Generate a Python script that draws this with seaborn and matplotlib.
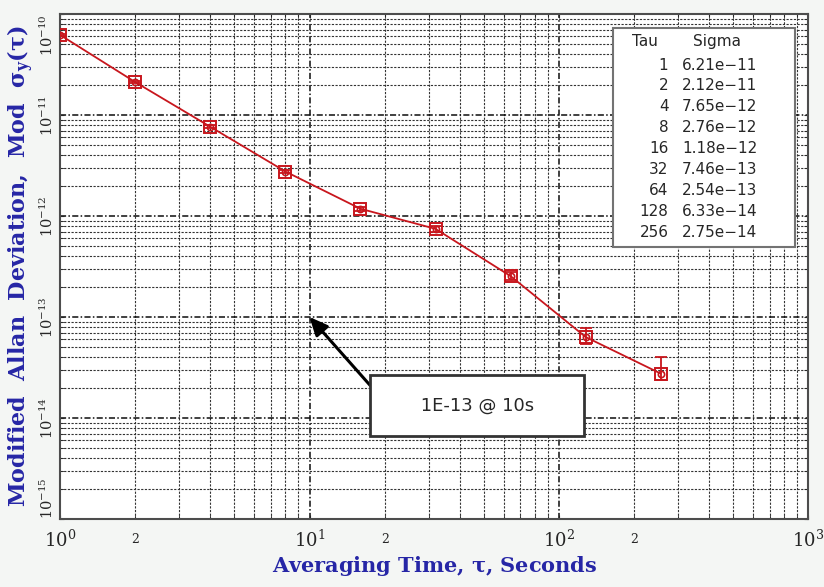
import numpy as np
import pandas as pd
import seaborn as sns
import matplotlib.pyplot as plt
from matplotlib.ticker import LogLocator, FixedLocator, FixedFormatter, LogFormatterSciNotation, NullFormatter

# data
tau = [1, 2, 4, 8, 16, 32, 64, 128, 256]
sigma = [6.21e-11, 2.12e-11, 7.65e-12, 2.76e-12, 1.18e-12, 7.46e-13, 2.54e-13, 6.33e-14, 2.75e-14]
sigma_txt = ['6.21e\u221211', '2.12e\u221211', '7.65e\u221212', '2.76e\u221212', '1.18e\u221212',
             '7.46e\u221213', '2.54e\u221213', '6.33e\u221214', '2.75e\u221214']
err_lo = [1.5e-12, 0.6e-12, 0.25e-12, 0.1e-12, 0.05e-12, 0.45e-13, 0.2e-13, 0.9e-14, 0.35e-14]
err_hi = [1.5e-12, 0.6e-12, 0.25e-12, 0.1e-12, 0.05e-12, 0.5e-13, 0.25e-13, 1.4e-14, 1.25e-14]
y_ticks = [1e-15, 1e-14, 1e-13, 1e-12, 1e-11, 1e-10]

df = pd.DataFrame({'tau': tau, 'sigma': sigma})

sns.set_style('ticks')
plt.rcParams['font.family'] = ['DejaVu Serif']
plt.rcParams['mathtext.fontset'] = 'dejavuserif'
plt.rcParams['mathtext.default'] = 'bf'

red = '#c8161d'
blue = '#2626a6'

fig = plt.figure(figsize=(8.24, 5.87), dpi=100, facecolor='#f4f6f4')
ax = fig.add_axes([0.073, 0.116, 0.908, 0.86])
ax.set_facecolor('white')

sns.lineplot(data=df, x='tau', y='sigma', ax=ax, color=red, lw=1.3, marker='s', zorder=4,
             markersize=8, markerfacecolor='none', markeredgecolor=red, markeredgewidth=1.4)
ax.plot(df['tau'], df['sigma'], ls='none', marker='o', ms=4.5, mfc='none', mec=red, mew=1.2, zorder=4)
ax.errorbar(df['tau'], df['sigma'], yerr=[err_lo, err_hi], fmt='none', ecolor=red,
            elinewidth=1.3, capsize=4, capthick=1.3, zorder=4)

ax.set_xscale('log')
ax.set_yscale('log')
ax.set_xlim(1, 1000)
ax.set_ylim(1e-15, 1e-10)

ax.yaxis.set_major_locator(FixedLocator(y_ticks))
ax.yaxis.set_minor_locator(LogLocator(base=10, subs=np.arange(2, 10)))
ax.yaxis.set_major_formatter(LogFormatterSciNotation())
ax.yaxis.set_minor_formatter(NullFormatter())
ax.xaxis.set_major_locator(LogLocator(base=10))
ax.xaxis.set_minor_locator(LogLocator(base=10, subs=np.arange(2, 10)))
ax.xaxis.set_minor_formatter(FixedFormatter(['2' if round(v / 10 ** np.floor(np.log10(v))) == 2 else ''
                                             for v in ax.xaxis.get_minor_locator().tick_values(1, 1000)]))

ax.grid(True, which='major', color='0.05', ls=(0, (4, 1.5, 1, 1.5)), lw=1.1)
ax.grid(True, which='minor', color='0.2', ls=(0, (2, 1.3)), lw=0.8)
ax.tick_params(which='both', direction='in', top=True, right=True, length=3)
ax.tick_params(axis='x', which='major', labelsize=13, pad=8)
ax.tick_params(axis='x', which='minor', labelsize=9, pad=10)
ax.tick_params(axis='y', which='major', labelsize=10.5, pad=3)
fig.canvas.draw()
for lab, v in zip(ax.get_yticklabels(), y_ticks):
    lab.set_rotation(90)
    lab.set_va('bottom' if v == y_ticks[0] else 'top' if v == y_ticks[-1] else 'center')
for sp in ax.spines.values():
    sp.set_color('0.3')
    sp.set_linewidth(1.5)

ax.set_xlabel(r'Averaging Time, $\tau$, Seconds', color=blue, fontsize=15, fontweight='bold', labelpad=2)
ax.set_ylabel(r'Modified  Allan  Deviation,  Mod  $\sigma_y(\tau)$', color=blue, fontsize=16,
              fontweight='bold', labelpad=2)

# inset table
box = plt.Rectangle((0.739, 0.539), 0.243, 0.433, transform=ax.transAxes, fc='white', ec='0.45', lw=1.5, zorder=5)
ax.add_patch(box)
ax.text(0.782, 0.945, 'Tau', transform=ax.transAxes, fontsize=11, family='DejaVu Sans',
        ha='center', va='center', zorder=6)
ax.text(0.846, 0.945, 'Sigma', transform=ax.transAxes, fontsize=11, family='DejaVu Sans',
        ha='left', va='center', zorder=6)
for i, (t, s) in enumerate(zip(tau, sigma_txt)):
    yy = 0.899 - i * 0.0414
    ax.text(0.813, yy, str(t), transform=ax.transAxes, fontsize=11, family='DejaVu Sans',
            ha='right', va='center', zorder=6)
    ax.text(0.831, yy, s, transform=ax.transAxes, fontsize=11, family='DejaVu Sans',
            ha='left', va='center', zorder=6)

# callout
ax.annotate('', xy=(10, 1e-13), xytext=(17.5, 2.1e-14), zorder=7,
            arrowprops=dict(arrowstyle='-|>,head_length=1.1,head_width=0.5', color='black', lw=2.2,
                            shrinkA=0, shrinkB=0))
ax.text(47, 1.32e-14, '     1E-13 @ 10s     ', fontsize=13, family='DejaVu Sans', ha='center', va='center',
        zorder=7, bbox=dict(boxstyle='square,pad=1.2', fc='white', ec='0.2', lw=2))

fig.savefig('out.png', dpi=100, facecolor=fig.get_facecolor())
